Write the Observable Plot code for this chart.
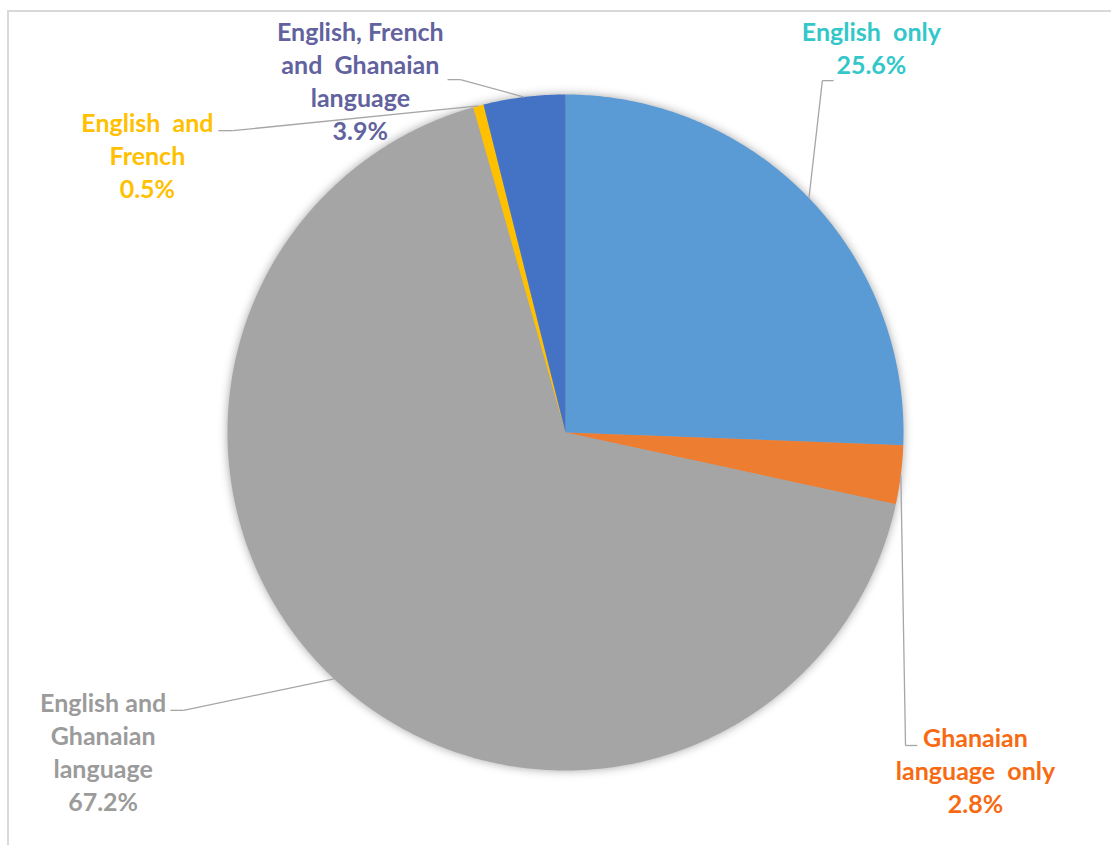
<!DOCTYPE html>
<html>
<head>
<meta charset="utf-8">
<script src="https://cdn.jsdelivr.net/npm/d3@7"></script>
<script src="https://cdn.jsdelivr.net/npm/@observablehq/plot@0.6"></script>
<style>
  html, body { margin: 0; padding: 0; background: #fff; overflow: hidden; width: 1111px; height: 845px; }
  #frame { position: absolute; left: 7px; top: 10px; width: 1300px; height: 1000px;
           border-top: 2px solid #d9d9d9; border-left: 2px solid #d9d9d9; }
  #chart { position: absolute; left: 0; top: 0; }
  #chart svg text { white-space: pre; }
  #chart svg g[aria-label="line"] { filter: drop-shadow(0px 0px 5px rgba(0,0,0,0.35)); }
</style>
</head>
<body>
<div id="frame"></div>
<div id="chart"></div>
<script>
// ---- data ----
const categories = [
  "English  only",
  "Ghanaian\nlanguage  only",
  "English and\nGhanaian\nlanguage",
  "English  and\nFrench",
  "English, French\nand  Ghanaian\nlanguage"
];
const shares = [25.6, 2.8, 67.2, 0.5, 3.9];
const sliceColors = ["#5B9BD5", "#ED7D31", "#A5A5A5", "#FFC000", "#4472C4"];
const labelColors = ["#33C7C9", "#F86A12", "#9B9B9B", "#FFC000", "#62629E"];

// ---- layout (in pie-radius units, centre at 0,0) ----
const labelPos = [[0.905, 1.141], [1.213, -0.998], [-1.368, -0.942], [-1.237, 0.824], [-0.607, 1.044]];
const elbowPos = [[0.760, 1.041], [1.006, -0.926], [-1.130, -0.822], [-0.985, 0.893], [-0.311, 1.044]];
const endPos   = [[0.793, 1.041], [1.041, -0.926], [-1.169, -0.822], [-1.027, 0.893], [-0.349, 1.044]];

const total = d3.sum(shares);
let cum = 0;
const slices = categories.map((c, i) => {
  const a0 = cum / total * 2 * Math.PI;
  cum += shares[i];
  const a1 = cum / total * 2 * Math.PI;
  return {c, i, a0, a1, mid: (a0 + a1) / 2};
});

// slice outline points
const polyPts = [];
for (const s of slices) {
  polyPts.push({c: s.c, x: 0, y: 0});
  const n = Math.max(2, Math.ceil((s.a1 - s.a0) / (Math.PI / 360)));
  for (let k = 0; k <= n; k++) {
    const a = s.a0 + (s.a1 - s.a0) * k / n;
    polyPts.push({c: s.c, x: Math.sin(a), y: Math.cos(a)});
  }
}

// leader segments
const segs = [];
for (const s of slices) {
  const ex = Math.sin(s.mid), ey = Math.cos(s.mid);
  const [bx, by] = elbowPos[s.i];
  const [tx, ty] = endPos[s.i];
  segs.push({x1: ex, y1: ey, x2: bx, y2: by});
  segs.push({x1: bx, y1: by, x2: tx, y2: ty});
}

const labels = slices.map(s => ({
  x: labelPos[s.i][0], y: labelPos[s.i][1],
  text: s.c + "\n" + d3.format(".1f")(shares[s.i]) + "%",
  color: labelColors[s.i]
}));

const R = 338, cx = 565, cy = 432;
const chart = Plot.plot({
  width: 1111,
  height: 845,
  margin: 0,
  style: {background: "transparent", overflow: "visible"},
  x: {domain: [-1, 1], range: [cx - R, cx + R], axis: null},
  y: {domain: [-1, 1], range: [cy + R, cy - R], axis: null},
  color: {domain: categories, range: sliceColors},
  marks: [
    Plot.line(polyPts, {x: "x", y: "y", z: "c", fill: "c", stroke: "none", curve: "linear-closed"}),
    Plot.link(segs, {x1: "x1", y1: "y1", x2: "x2", y2: "y2", stroke: "#A6A6A6", strokeWidth: 1.3}),
    Plot.text(labels, {
      x: "x", y: "y", text: "text", fill: d => d.color,
      fontSize: 25, fontWeight: "bold", fontFamily: "Lato",
      lineHeight: 1.32, lineAnchor: "middle", textAnchor: "middle"
    })
  ]
});
document.getElementById("chart").appendChild(chart);
</script>
</body>
</html>
